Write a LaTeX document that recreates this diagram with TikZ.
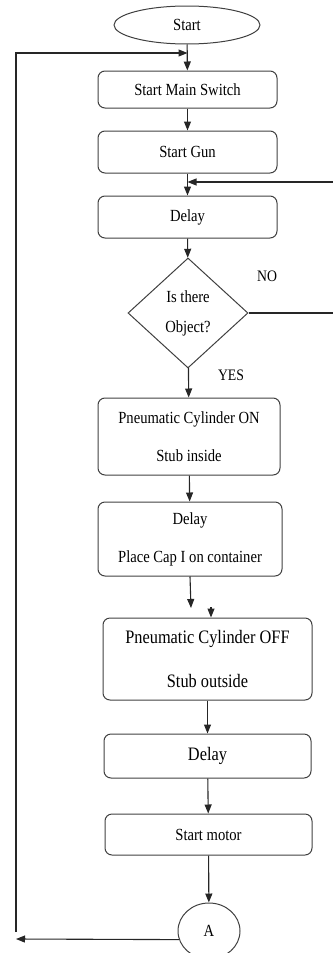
\documentclass[tikz,border=0pt]{standalone}
\usepackage{fontspec}
\setmainfont{Liberation Serif}[FakeStretch=0.86]
\usetikzlibrary{shapes.geometric,arrows.meta}
\begin{document}
\begin{tikzpicture}[x=1pt,y=-1pt,
blk/.style={draw=black!75, line width=1pt, rounded corners=7pt, inner sep=0pt, align=center, font=\fontsize{17}{38}\selectfont},
big/.style={font=\fontsize{19}{44}\selectfont},
trm/.style={draw=black!75, line width=1pt, ellipse, inner sep=0pt, font=\fontsize{17}{20}\selectfont},
dec/.style={draw=black!75, line width=1pt, diamond, inner sep=0pt, align=center, font=\fontsize{17}{30}\selectfont},
lbl/.style={font=\fontsize{16}{18}\selectfont},
arr/.style={draw=black!85, line width=1.1pt, -{Triangle[length=9pt,width=7pt]}},
ln/.style={draw=black!85, line width=1.1pt}]
\useasboundingbox (0,0) rectangle (332,953);
\node[trm, minimum width=146pt, minimum height=38pt] (fid0) at (187,25){Start};
\node[blk, minimum width=179pt, minimum height=37pt] (fid1) at (187.5,89.5){Start Main Switch};
\node[blk, minimum width=179pt, minimum height=42pt] (fid2) at (187.5,152){Start Gun};
\node[blk, minimum width=179pt, minimum height=42pt] (fid3) at (187.5,217){Delay};
\node[dec, minimum width=120pt, minimum height=110pt] (fid4) at (188,313){Is there\\Object?};
\node[blk, minimum width=182pt, minimum height=77pt] (fid5) at (189,436.5){Pneumatic Cylinder ON\\Stub inside};
\node[blk, minimum width=184pt, minimum height=74pt] (fid6) at (190,539){Delay\\Place Cap I on container};
\node[blk, big, minimum width=209pt, minimum height=82pt] (fid7) at (207.5,659){Pneumatic Cylinder OFF\\Stub outside};
\node[blk, big, minimum width=207pt, minimum height=44pt] (fid8) at (207.5,756){Delay};
\node[blk, minimum width=207pt, minimum height=41pt] (fid9) at (208.5,834.5){Start motor};
\node[trm, minimum width=62pt, minimum height=56pt] (fid10) at (209,931){A};
\node[lbl] (lno) at (267,276){NO};
\node[lbl] (lyes) at (231,375){YES};
\coordinate (lt) at (16,53);
\coordinate (lb) at (16,932);
\coordinate (la) at (16,939);
\coordinate (rt) at (334,182);
\coordinate (rb) at (334,313);
\coordinate (c1) at (191,608);
\coordinate (c2) at (211,607);
\draw[arr](fid0) -- (fid1);
\draw[arr](fid1) -- (fid2);
\draw[arr](fid2) -- (fid3);
\draw[arr](fid3) -- (fid4);
\draw[arr](fid4) -- (fid5);
\draw[arr](fid5) -- (fid6);
\draw[arr](fid6.south) -- (c1);
\draw[arr](c2) -- (c2 |- fid7.north);
\draw[arr](fid7) -- (fid8);
\draw[arr](fid8) -- (fid9);
\draw[arr](fid9) -- (fid10);
\draw[arr](fid10.196) -- (la);
\draw[arr](lb) -- (lt) -- (lt -| fid1.north);
\draw[ln](fid4.east) -- (rb) -- (rt);
\draw[arr](rt) -- (rt -| fid2.south);

\end{tikzpicture}
\end{document}
